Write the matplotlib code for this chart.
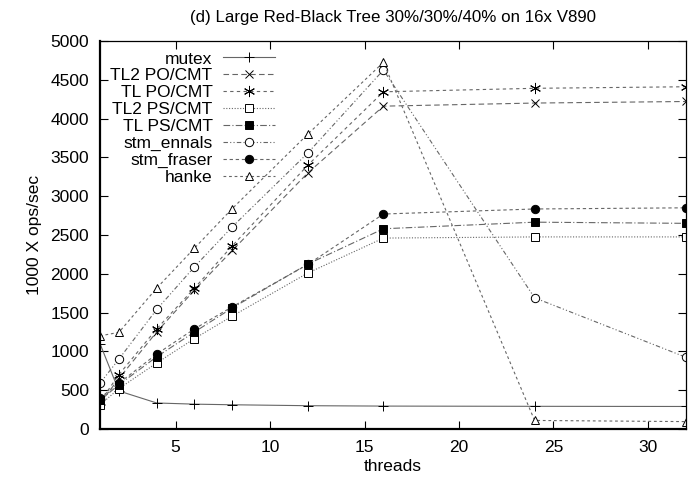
import matplotlib.pyplot as plt

plt.rcParams["font.family"] = ["Liberation Sans", "DejaVu Sans"]
plt.rcParams["font.size"] = 12.5

threads = [1, 2, 4, 6, 8, 12, 16, 24, 32]

mutex = [1100, 490, 335, 320, 312, 300, 295, 292, 290]
tl2_po = [330, 650, 1250, 1790, 2300, 3300, 4160, 4200, 4220]
tl_po = [350, 700, 1290, 1815, 2360, 3400, 4345, 4390, 4410]
tl2_ps = [310, 520, 850, 1165, 1455, 2010, 2460, 2475, 2475]
tl_ps = [370, 570, 930, 1250, 1560, 2125, 2580, 2665, 2650]
stm_ennals = [590, 900, 1540, 2090, 2605, 3557, 4626, 1690, 925]
stm_fraser = [400, 590, 965, 1290, 1575, 2120, 2770, 2835, 2850]
hanke = [1200, 1245, 1815, 2330, 2840, 3800, 4725, 110, 95]

series = [
    ("mutex", mutex, "+", "none", "-", 7),
    ("TL2 PO/CMT", tl2_po, "x", "none", (0, (5, 3)), 6),
    ("TL PO/CMT", tl_po, (6, 2, 0), "none", (0, (3, 3)), 8),
    ("TL2 PS/CMT", tl2_ps, "s", "white", (0, (1, 1.5)), 6),
    ("TL PS/CMT", tl_ps, "s", "black", (0, (6, 2, 1, 2)), 6),
    ("stm_ennals", stm_ennals, "o", "white", (0, (4, 2, 1, 2, 1, 2)), 6),
    ("stm_fraser", stm_fraser, "o", "black", (0, (3, 2.5)), 6),
    ("hanke", hanke, "^", "white", (0, (2.5, 2.5)), 6),
]

fig = plt.figure(figsize=(6.92, 4.82), dpi=100)
ax = fig.add_axes([0.1445, 0.110, 0.8465, 0.805])

for label, vals, marker, fc, ls, ms in series:
    ax.plot(threads, vals, color="#666666", linewidth=0.8, linestyle=ls,
            marker=marker, markersize=ms, markerfacecolor=fc,
            markeredgecolor="black", markeredgewidth=0.7, label=label)

ax.set_xlim(1, 32)
ax.set_ylim(0, 5000)
ax.set_xticks([5, 10, 15, 20, 25, 30])
ax.set_yticks(range(0, 5001, 500))
ax.tick_params(direction="in", top=True, right=True, length=6, width=0.8)
ax.tick_params(axis="x", pad=8)
ax.tick_params(axis="y", pad=8)
for side in ["left", "bottom"]:
    ax.spines[side].set_linewidth(1.6)
for side in ["top", "right"]:
    ax.spines[side].set_linewidth(0.9)

ax.set_xlabel("threads", labelpad=3)
ax.set_ylabel("1000 X ops/sec", labelpad=6)
ax.set_title("(d) Large Red-Black Tree 30%/30%/40% on 16x V890",
             fontsize=12.2, pad=14)

ax.legend(loc="upper left", frameon=False, markerfirst=False,
          handlelength=3.0, handletextpad=0.6, labelspacing=0.1,
          borderaxespad=0.2, bbox_to_anchor=(0.0, 1.0))

fig.savefig("out.png", dpi=100)
